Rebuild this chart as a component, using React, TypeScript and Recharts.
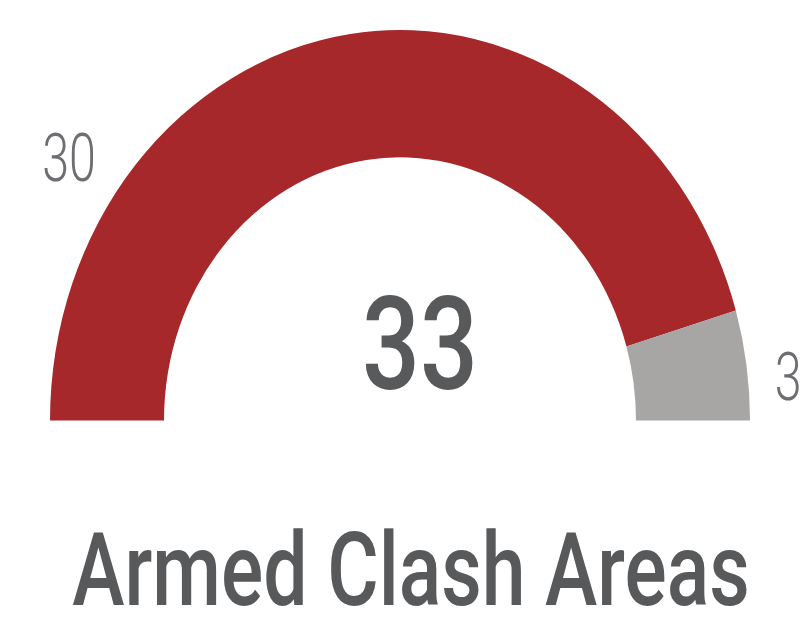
import React from 'react';
import { PieChart, Pie, Cell } from 'recharts';

const categories = ['Armed Clash', 'Other'];
const values = [30, 3];
const colors = ['#a6282a', '#a7a6a5'];
const title = 'Armed Clash Areas';

const data = categories.map((name, i) => ({ name, value: values[i] }));
const total = values.reduce((a, b) => a + b, 0);

// the reference is stretched vertically, so we draw it flat and scale it
const STRETCH = 1.1155;
const W = 809;
const PAGE_H = 618;
const H = 570;
const CX = 400;
const CY = 377;

const FONT = 'Roboto, "DejaVu Sans", sans-serif';

// narrow text: Roboto squeezed sideways to look like a condensed face
const Narrow = ({ x, y, squeeze, children, ...rest }: any) => (
  <text
    transform={`translate(${x},${y}) scale(${squeeze},1)`}
    x={0}
    y={0}
    textAnchor="middle"
    fontFamily={FONT}
    {...rest}
  >
    {children}
  </text>
);

// where each slice label sits: angle in degrees, distance past outer radius
const labelSpots = [
  { angle: 144.6, gap: 56 },
  { angle: 5.7, gap: 40 },
];

const renderLabel = (props: any) => {
  const { cx, cy, outerRadius, index, value } = props;
  const spot = labelSpots[index];
  const r = outerRadius + spot.gap;
  const rad = (spot.angle * Math.PI) / 180;
  return (
    <Narrow
      x={cx + r * Math.cos(rad)}
      y={cy - r * Math.sin(rad)}
      squeeze={0.82}
      dominantBaseline="central"
      fill="#6d6e71"
      fontSize={59}
      fontWeight={300}
    >
      {value}
    </Narrow>
  );
};

const App = () => {
  return (
    <div
      style={{
        position: 'absolute',
        left: 0,
        top: 0,
        width: W,
        height: PAGE_H,
        overflow: 'hidden',
        background: '#fff',
      }}
    >
      <div
        style={{
          width: W,
          height: H,
          transform: `scaleY(${STRETCH})`,
          transformOrigin: 'top left',
        }}
      >
        <PieChart width={W} height={H} margin={{ top: 0, right: 0, bottom: 0, left: 0 }}>
          <Pie
            data={data}
            dataKey="value"
            nameKey="name"
            cx={CX}
            cy={CY}
            startAngle={180}
            endAngle={0}
            innerRadius={236}
            outerRadius={350}
            stroke="none"
            label={renderLabel}
            labelLine={false}
            isAnimationActive={false}
          >
            {data.map((d, i) => (
              <Cell key={d.name} fill={colors[i]} />
            ))}
          </Pie>
          <Narrow x={420} y={349} squeeze={0.88} fill="#58595b" fontSize={116} fontWeight={500}>
            {total}
          </Narrow>
          <Narrow x={411} y={542} squeeze={0.866} fill="#58595b" fontSize={91} fontWeight={500}>
            {title}
          </Narrow>
        </PieChart>
      </div>
    </div>
  );
};

export default App;
